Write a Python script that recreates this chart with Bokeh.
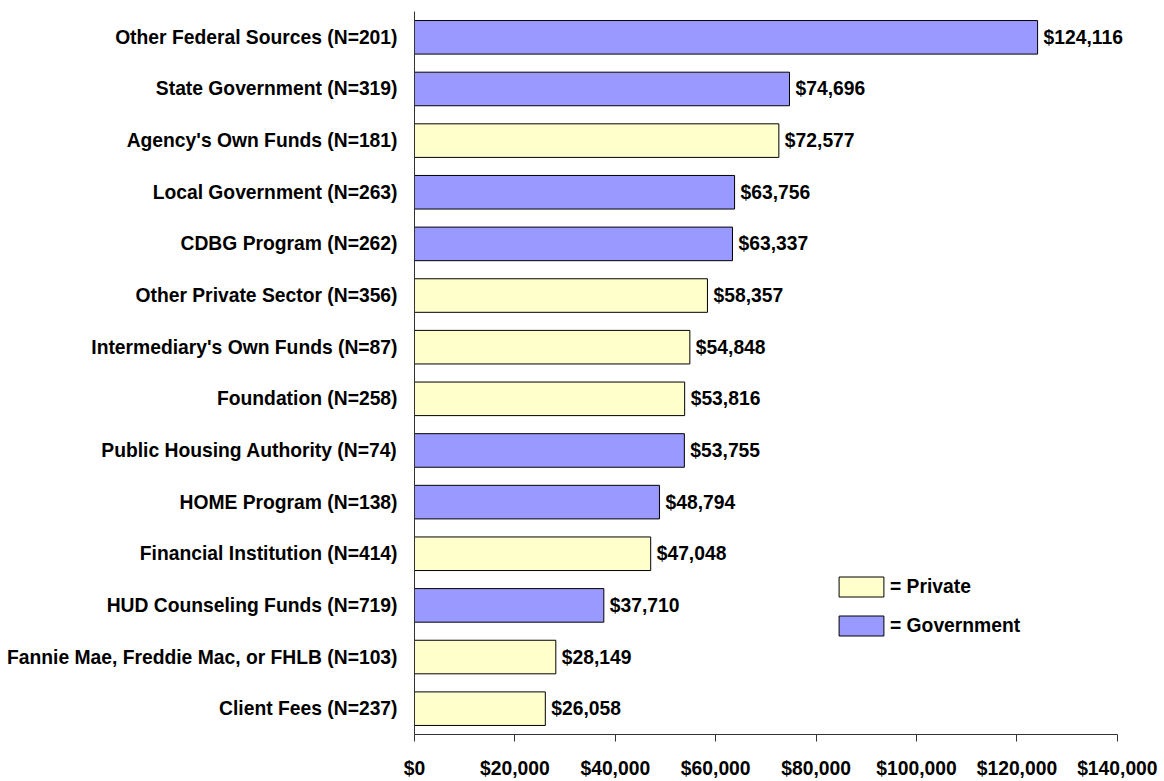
from bokeh.plotting import figure
from bokeh.models import ColumnDataSource, FactorRange, Range1d, Legend, LegendItem, NumeralTickFormatter, FixedTicker
from bokeh.core.properties import value
from bokeh.embed import file_html
from bokeh.resources import INLINE

categories = [
    "Other Federal Sources (N=201)",
    "State Government (N=319)",
    "Agency's Own Funds (N=181)",
    "Local Government (N=263)",
    "CDBG Program (N=262)",
    "Other Private Sector (N=356)",
    "Intermediary's Own Funds (N=87)",
    "Foundation (N=258)",
    "Public Housing Authority (N=74)",
    "HOME Program (N=138)",
    "Financial Institution (N=414)",
    "HUD Counseling Funds (N=719)",
    "Fannie Mae, Freddie Mac, or FHLB (N=103)",
    "Client Fees (N=237)",
]
amounts = [124116, 74696, 72577, 63756, 63337, 58357, 54848, 53816, 53755, 48794, 47048, 37710, 28149, 26058]
sectors = ["Government", "Government", "Private", "Government", "Government", "Private", "Private",
           "Private", "Government", "Government", "Private", "Government", "Private", "Private"]
x_ticks = [0, 20000, 40000, 60000, 80000, 100000, 120000, 140000]

FONT = "Liberation Sans"
FS = "19.3px"
colors = {"Private": "#FFFFCC", "Government": "#9999FF"}

# axis drawn 0..140000; range extended a little so the top bar's label is not clipped
p = figure(width=1164, height=781, output_backend="svg", toolbar_location=None,
           y_range=FactorRange(factors=list(reversed(categories)), range_padding=0),
           x_range=Range1d(0, 148000),
           min_border_left=414, min_border_right=7, min_border_top=11, min_border_bottom=42)
p.outline_line_color = None
p.xgrid.grid_line_color = None
p.ygrid.grid_line_color = None

renderers = {}
for sec in ["Private", "Government"]:
    idx = [i for i, s in enumerate(sectors) if s == sec]
    src = ColumnDataSource(dict(cat=[categories[i] for i in idx], amt=[amounts[i] for i in idx]))
    renderers[sec] = p.hbar(y="cat", right="amt", left=0, height=0.65, source=src,
                            fill_color=colors[sec], line_color="black", line_width=1)

lab_src = ColumnDataSource(dict(cat=categories, amt=amounts, txt=["${:,}".format(a) for a in amounts]))
p.text(x="amt", y="cat", text="txt", source=lab_src, x_offset=6, text_baseline="middle",
       text_align="left", text_font=value(FONT), text_font_size=FS, text_font_style="bold",
       text_color="black")

p.xaxis.ticker = FixedTicker(ticks=x_ticks)
p.xaxis.bounds = (0, 140000)
p.xaxis.formatter = NumeralTickFormatter(format="$0,0")
p.xaxis.major_tick_out = 7
p.xaxis.major_tick_in = 0
p.xaxis.minor_tick_out = 0
p.xaxis.minor_tick_in = 0
p.xaxis.major_label_standoff = 16
for ax in (p.xaxis, p.yaxis):
    ax.axis_line_color = "#333333"
    ax.major_tick_line_color = "#333333"
    ax.major_label_text_font = FONT
    ax.major_label_text_font_size = FS
    ax.major_label_text_font_style = "bold"
    ax.major_label_text_color = "black"
p.yaxis.major_tick_out = 0
p.yaxis.major_tick_in = 0
p.yaxis.major_label_standoff = 17

legend = Legend(items=[LegendItem(label="= Private", renderers=[renderers["Private"]]),
                       LegendItem(label="= Government", renderers=[renderers["Government"]])],
                location=(419, 96), orientation="vertical",
                glyph_width=56, glyph_height=25, spacing=14, label_standoff=1,
                padding=0, margin=0, border_line_color=None, background_fill_alpha=0,
                label_text_font=FONT, label_text_font_size=FS, label_text_font_style="bold",
                label_text_color="black")
p.add_layout(legend, "center")

open("out.html", "w").write(file_html(p, INLINE))
